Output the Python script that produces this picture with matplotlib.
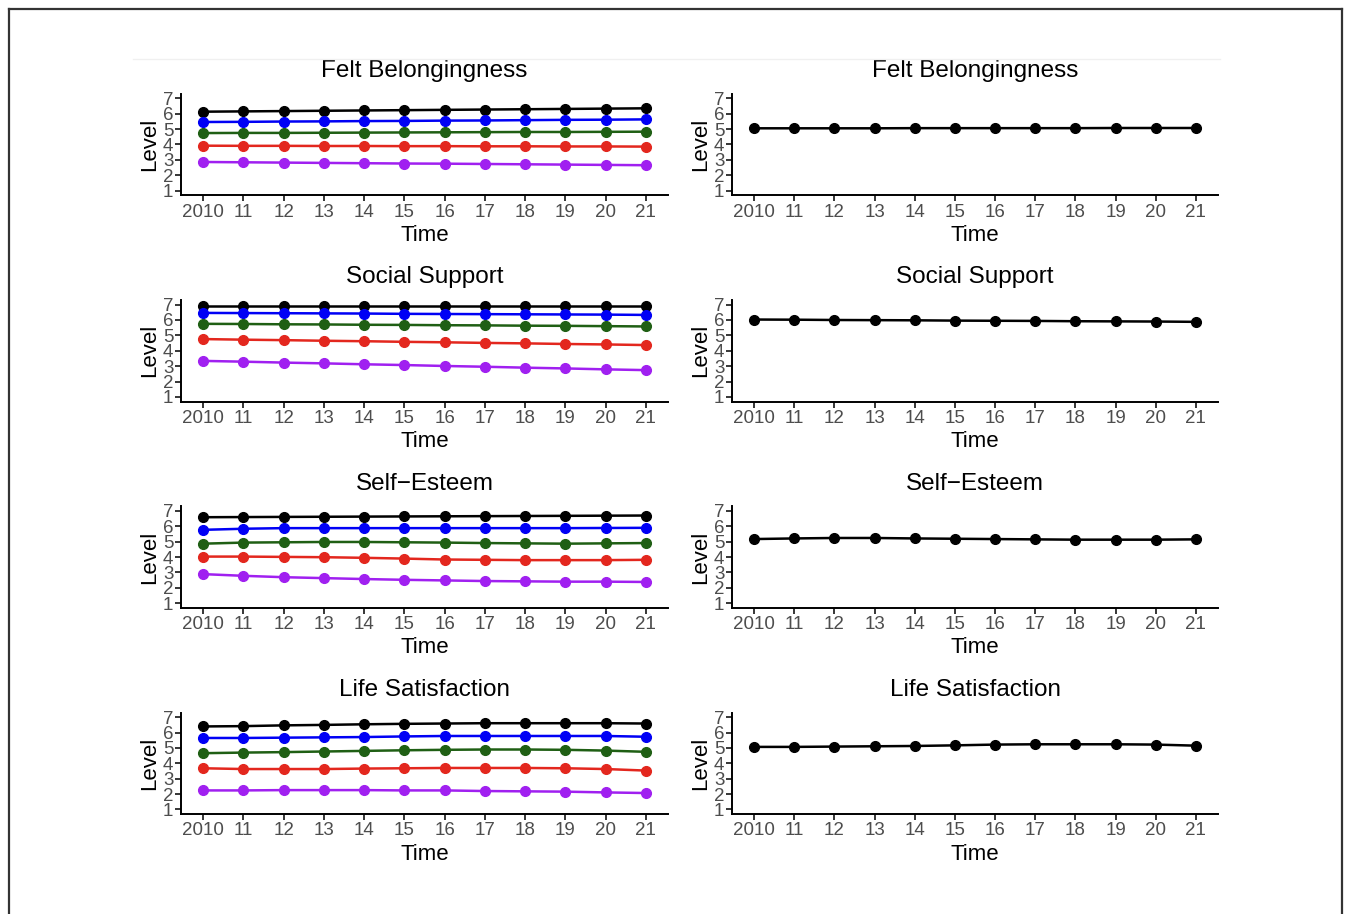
import matplotlib

matplotlib.use("Agg")

import matplotlib.pyplot as plt
from matplotlib.lines import Line2D

plt.rcParams["font.family"] = ["Liberation Sans", "DejaVu Sans"]

YEARS = list(range(2010, 2022))
YEAR_LABELS = ["2010"] + [str(y % 100) for y in YEARS[1:]]
TITLES = ["Felt Belongingness", "Social Support", "Self\u2212Esteem", "Life Satisfaction"]

COLORS = ["#000000", "#0000F5", "#1F5F14", "#E3271E", "#A020F0"]

# left column: five groups per measure (black, blue, green, red, purple)
FELT_GROUPS = [
    [6.13, 6.15, 6.17, 6.19, 6.21, 6.23, 6.25, 6.27, 6.29, 6.31, 6.33, 6.35],
    [5.46, 5.47, 5.49, 5.50, 5.52, 5.53, 5.55, 5.56, 5.58, 5.60, 5.61, 5.63],
    [4.74, 4.75, 4.75, 4.76, 4.77, 4.78, 4.79, 4.80, 4.81, 4.81, 4.82, 4.83],
    [3.92, 3.91, 3.91, 3.90, 3.90, 3.89, 3.89, 3.88, 3.88, 3.87, 3.87, 3.86],
    [2.86, 2.84, 2.82, 2.80, 2.78, 2.76, 2.75, 2.73, 2.71, 2.69, 2.67, 2.65],
]
SUPPORT_GROUPS = [
    [6.91, 6.91, 6.91, 6.91, 6.91, 6.91, 6.91, 6.91, 6.91, 6.91, 6.91, 6.91],
    [6.46, 6.45, 6.44, 6.43, 6.42, 6.40, 6.39, 6.38, 6.37, 6.36, 6.35, 6.33],
    [5.75, 5.74, 5.72, 5.71, 5.69, 5.68, 5.66, 5.65, 5.63, 5.62, 5.60, 5.58],
    [4.76, 4.72, 4.69, 4.65, 4.62, 4.58, 4.55, 4.51, 4.48, 4.44, 4.41, 4.37],
    [3.34, 3.29, 3.23, 3.18, 3.12, 3.07, 3.01, 2.96, 2.90, 2.85, 2.79, 2.74],
]
ESTEEM_GROUPS = [
    [6.59, 6.60, 6.61, 6.62, 6.63, 6.64, 6.65, 6.66, 6.67, 6.68, 6.69, 6.70],
    [5.77, 5.84, 5.88, 5.88, 5.88, 5.88, 5.88, 5.88, 5.88, 5.88, 5.89, 5.90],
    [4.87, 4.94, 4.96, 4.98, 4.98, 4.96, 4.94, 4.91, 4.89, 4.87, 4.89, 4.91],
    [4.03, 4.03, 4.01, 3.99, 3.95, 3.90, 3.84, 3.82, 3.80, 3.80, 3.80, 3.82],
    [2.89, 2.78, 2.69, 2.63, 2.57, 2.52, 2.48, 2.44, 2.42, 2.40, 2.40, 2.38],
]
LIFE_GROUPS = [
    [6.40, 6.42, 6.47, 6.50, 6.54, 6.57, 6.59, 6.61, 6.61, 6.61, 6.61, 6.59],
    [5.65, 5.65, 5.67, 5.69, 5.71, 5.75, 5.78, 5.78, 5.78, 5.78, 5.78, 5.73],
    [4.66, 4.70, 4.73, 4.77, 4.81, 4.85, 4.88, 4.90, 4.90, 4.88, 4.83, 4.75],
    [3.68, 3.63, 3.63, 3.63, 3.66, 3.68, 3.70, 3.70, 3.70, 3.68, 3.63, 3.53],
    [2.24, 2.24, 2.26, 2.26, 2.26, 2.24, 2.24, 2.20, 2.18, 2.16, 2.11, 2.07],
]

# right column: overall mean per measure
FELT_MEAN = [5.05, 5.05, 5.05, 5.05, 5.06, 5.06, 5.06, 5.06, 5.06, 5.07, 5.07, 5.07]
SUPPORT_MEAN = [6.03, 6.02, 6.00, 5.99, 5.98, 5.96, 5.95, 5.94, 5.92, 5.91, 5.90, 5.88]
ESTEEM_MEAN = [5.17, 5.21, 5.24, 5.24, 5.21, 5.19, 5.17, 5.15, 5.13, 5.13, 5.13, 5.15]
LIFE_MEAN = [5.07, 5.07, 5.09, 5.11, 5.13, 5.17, 5.22, 5.24, 5.24, 5.24, 5.22, 5.15]

GROUPS = [FELT_GROUPS, SUPPORT_GROUPS, ESTEEM_GROUPS, LIFE_GROUPS]
MEANS = [FELT_MEAN, SUPPORT_MEAN, ESTEEM_MEAN, LIFE_MEAN]

W, H = 1345, 914


def style_axes(ax, title):
    ax.set_xlim(2009.45, 2021.55)
    ax.set_ylim(0.7, 7.3)
    ax.set_xticks(YEARS)
    ax.set_xticklabels(YEAR_LABELS)
    ax.set_yticks(range(1, 8))
    for side in ("top", "right"):
        ax.spines[side].set_visible(False)
    for side in ("left", "bottom"):
        ax.spines[side].set_linewidth(1.4)
        ax.spines[side].set_color("black")
    ax.tick_params(length=4, width=1.1, color="black", labelsize=13.5,
                   labelcolor="#4D4D4D", pad=2)
    ax.tick_params(axis="y", pad=1.5)
    ax.set_title(title, fontsize=17.5, pad=12)
    ax.set_xlabel("Time", fontsize=16, labelpad=3)
    ax.set_ylabel("Level", fontsize=16, labelpad=2)


fig = plt.figure(figsize=(W / 100, H / 100), dpi=100)

col_left = [(181, 668), (732, 1218)]
row_top = 93.7
row_step = 206.3
ax_h = 101.5

for i, title in enumerate(TITLES):
    top = row_top + i * row_step
    for j, (x0, x1) in enumerate(col_left):
        ax = fig.add_axes([x0 / W, 1 - (top + ax_h) / H, (x1 - x0) / W, ax_h / H])
        if j == 0:
            for vals, color in zip(GROUPS[i], COLORS):
                ax.plot(YEARS, vals, color=color, linewidth=1.8, marker="o",
                        markersize=7, clip_on=False)
        else:
            ax.plot(YEARS, MEANS[i], color="black", linewidth=1.8, marker="o",
                    markersize=7, clip_on=False)
        style_axes(ax, title)

# outer frame (open at the bottom)
frame = "#333333"
fig.add_artist(Line2D([9 / W, 9 / W], [0, 1 - 9 / H], color=frame, linewidth=1.6))
fig.add_artist(Line2D([1342 / W, 1342 / W], [0, 1 - 9 / H], color=frame, linewidth=1.6))
fig.add_artist(Line2D([9 / W, 1342 / W], [1 - 9 / H, 1 - 9 / H], color=frame, linewidth=1.6))
fig.add_artist(Line2D([133 / W, 1220 / W], [1 - 59 / H, 1 - 59 / H], color="#F0F0F0", linewidth=1.0))

fig.savefig("out.png", dpi=100)
